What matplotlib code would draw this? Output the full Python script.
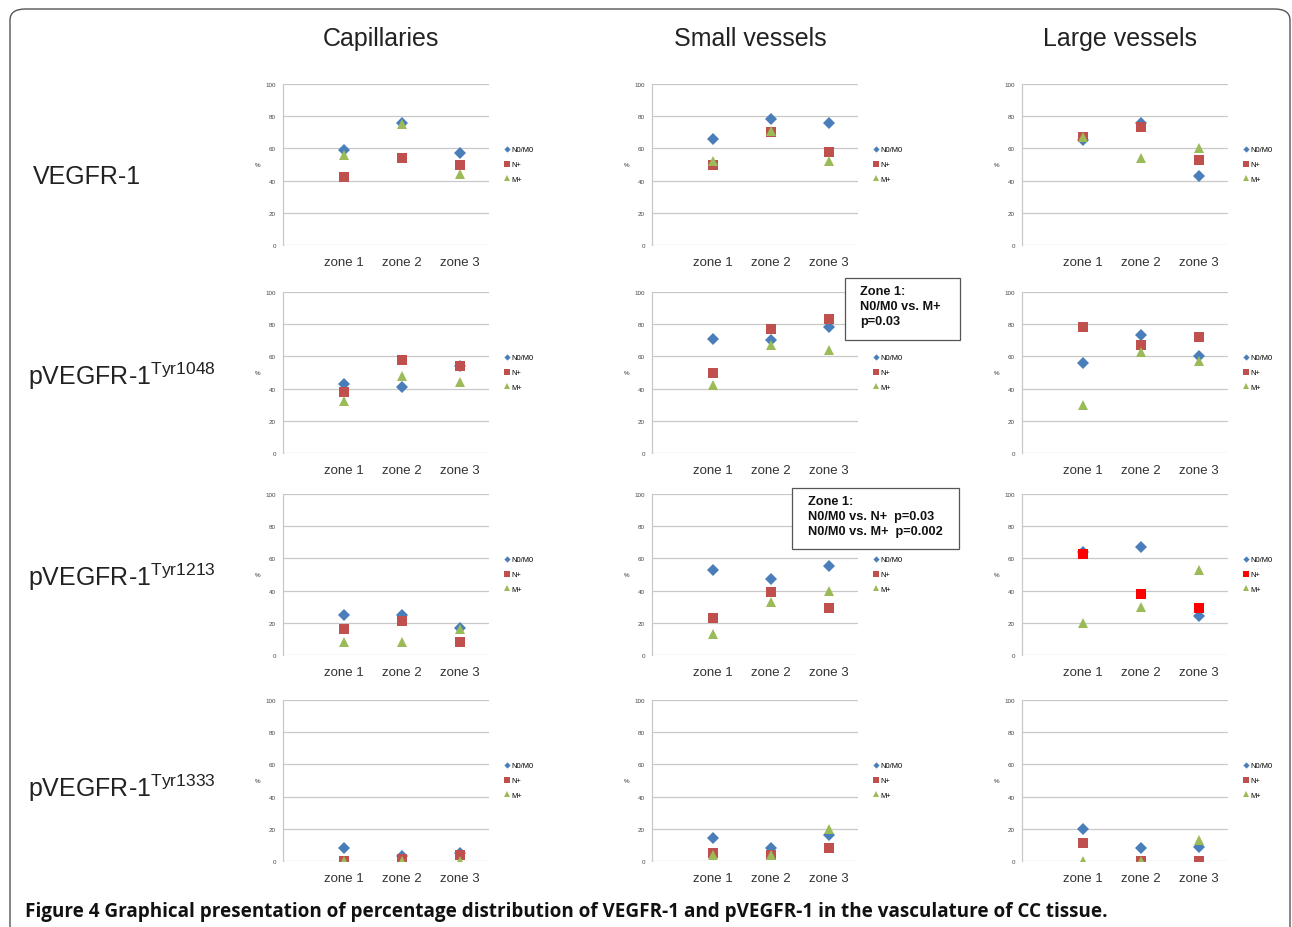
import matplotlib
matplotlib.use("Agg")
import matplotlib.pyplot as plt
from matplotlib.patches import FancyBboxPatch, Rectangle

plt.rcParams['font.family'] = ['Liberation Sans', 'DejaVu Sans']
plt.rcParams['mathtext.fontset'] = 'custom'
plt.rcParams['mathtext.rm'] = 'Liberation Sans'

# DATA
zones = ["zone 1", "zone 2", "zone 3"]
groups = ["N0/M0", "N+", "M+"]
vessel_types = ["Capillaries", "Small vessels", "Large vessels"]
markers_rows = ["VEGFR-1", "pVEGFR-1$^{\\mathrm{Tyr1048}}$",
                "pVEGFR-1$^{\\mathrm{Tyr1213}}$", "pVEGFR-1$^{\\mathrm{Tyr1333}}$"]

# each list: [capillaries, small vessels, large vessels], values for zone 1..3
vegfr1_n0 = [[59, 76, 57], [66, 78, 76], [65, 76, 43]]
vegfr1_np = [[42, 54, 50], [50, 70, 58], [67, 73, 53]]
vegfr1_mp = [[56, 75, 44], [52, 71, 52], [67, 54, 60]]

tyr1048_n0 = [[43, 41, 54], [71, 70, 78], [56, 73, 60]]
tyr1048_np = [[38, 58, 54], [50, 77, 83], [78, 67, 72]]
tyr1048_mp = [[32, 48, 44], [42, 67, 64], [30, 63, 57]]

tyr1213_n0 = [[25, 25, 17], [53, 47, 55], [64, 67, 24]]
tyr1213_np = [[16, 21, 8], [23, 39, 29], [63, 38, 29]]
tyr1213_mp = [[8, 8, 16], [13, 33, 40], [20, 30, 53]]

tyr1333_n0 = [[8, 3, 5], [14, 8, 16], [20, 8, 9]]
tyr1333_np = [[0, 1, 4], [5, 4, 8], [11, 0, 0]]
tyr1333_mp = [[0, 0, 0], [4, 4, 20], [0, 0, 13]]

stats_notes = ["Zone 1:\nN0/M0 vs. M+\np=0.03",
               "Zone 1:\nN0/M0 vs. N+  p=0.03\nN0/M0 vs. M+  p=0.002"]

rows_data = [
    (vegfr1_n0, vegfr1_np, vegfr1_mp),
    (tyr1048_n0, tyr1048_np, tyr1048_mp),
    (tyr1213_n0, tyr1213_np, tyr1213_mp),
    (tyr1333_n0, tyr1333_np, tyr1333_mp),
]

# STYLE / LAYOUT
W, H = 1292, 928
series_style = [
    dict(marker='D', color='#4A7EBB', ms=5.8),
    dict(marker='s', color='#C0504D', ms=7.0),
    dict(marker='^', color='#9BBB59', ms=7.2),
]
red_override = {(2, 2): '#FF0000'}
col_left = [283, 652, 1022]
col_width = 206
row_top = [85, 293, 495, 701]
row_height = 161
# note boxes in pixels: (x0, y0, x1, y1), text left, text top
note_boxes = [((845, 279, 960, 341), 860, 286),
              ((792, 489, 959, 550), 808, 496)]


def px(x, y):
    return x / W, 1 - y / H


fig = plt.figure(figsize=(W / 100, H / 100), dpi=100)

frame = FancyBboxPatch((10 / W, -0.05), 1280 / W, 1.05 - 10 / H,
                       boxstyle="round,pad=0,rounding_size=0.012",
                       transform=fig.transFigure, fill=False,
                       edgecolor='#555555', linewidth=1.0)
fig.patches.append(frame)

for r, (n0, np_, mp) in enumerate(rows_data):
    for c in range(3):
        left = col_left[c] / W
        bottom = 1 - (row_top[r] + row_height) / H
        ax = fig.add_axes([left, bottom, col_width / W, row_height / H])
        x = [1, 2, 3]
        for g, vals in enumerate([n0[c], np_[c], mp[c]]):
            st = dict(series_style[g])
            if g == 1 and (r, c) in red_override:
                st['color'] = red_override[(r, c)]
            ax.plot(x, vals, linestyle='none', marker=st['marker'],
                    color=st['color'], markersize=st['ms'],
                    markeredgewidth=0, label=groups[g], zorder=3)
        ax.set_xlim(-0.05, 3.5)
        ax.set_ylim(0, 100)
        ax.set_yticks([0, 20, 40, 60, 80, 100])
        ax.set_xticks(x)
        ax.set_xticklabels(zones)
        ax.yaxis.grid(True, color='#C8C8C8', linewidth=0.9)
        ax.set_axisbelow(True)
        for s in ['top', 'right', 'bottom']:
            ax.spines[s].set_visible(False)
        ax.spines['left'].set_color('#C8C8C8')
        ax.spines['left'].set_linewidth(0.9)
        ax.tick_params(axis='y', length=0, labelsize=4.5, labelcolor='#444444', pad=5)
        ax.tick_params(axis='x', length=0, labelsize=9.5, labelcolor='#333333', pad=8)
        ax.text(-0.125, 0.5, '%', transform=ax.transAxes, fontsize=4.5,
                ha='center', va='center', color='#333333')
        ax.legend(loc='center left', bbox_to_anchor=(1.06, 0.5), frameon=False,
                  fontsize=5.4, markerscale=0.55, handlelength=0.5,
                  handletextpad=0.3, labelspacing=1.0, borderpad=0)

# significance notes
for (x0, y0, x1, y1), tx, ty in note_boxes:
    fx0, fy1 = px(x0, y1)
    fig.patches.append(Rectangle((fx0, fy1), (x1 - x0) / W, (y1 - y0) / H,
                                 transform=fig.transFigure, facecolor='white',
                                 edgecolor='#555555', linewidth=0.9, zorder=5))
for ((x0, y0, x1, y1), tx, ty), note in zip(note_boxes, stats_notes):
    fig.text(*px(tx, ty), note, fontsize=9.2, fontweight='bold', ha='left',
             va='top', linespacing=1.32, zorder=6, color='#111111')

# column titles
for c, name in enumerate(vessel_types):
    fig.text(*px(col_left[c] + 98, 39), name, fontsize=18, ha='center',
             va='center', color='#222222')

# row labels
row_label_base = [184, 385, 586, 797]
for r, name in enumerate(markers_rows):
    fig.text(*px(33 if r == 0 else 28, row_label_base[r]), name,
             fontsize=18, ha='left', va='baseline', color='#222222')

fig.text(*px(25, 912),
         "Figure 4 Graphical presentation of percentage distribution of VEGFR-1 and "
         "pVEGFR-1 in the vasculature of CC tissue.",
         fontsize=13.6, fontweight='bold', ha='left', va='center',
         family=['Open Sans', 'DejaVu Sans'], color='#111111')

fig.savefig('out.png', dpi=100)
